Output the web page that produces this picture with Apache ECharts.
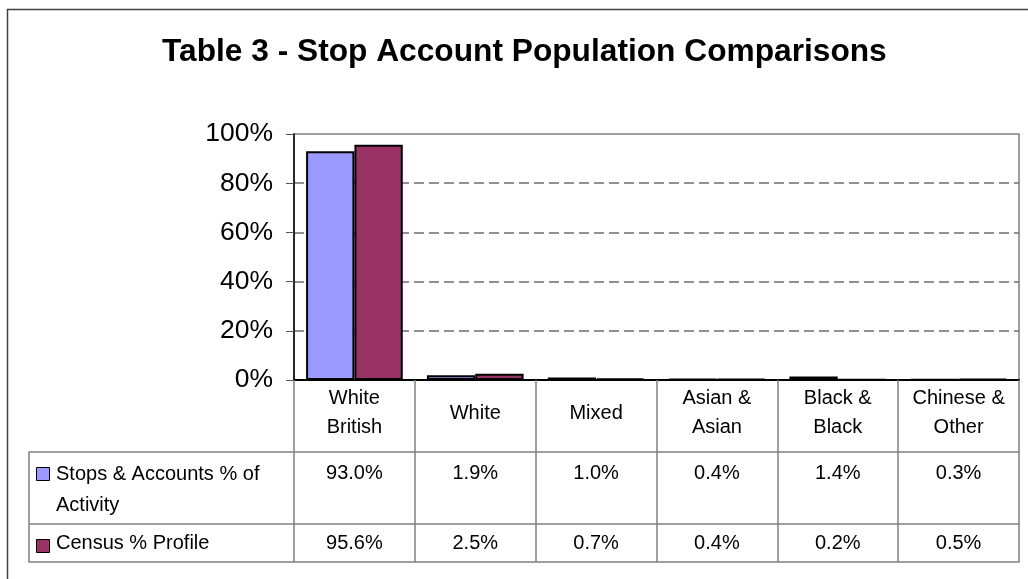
<!DOCTYPE html>
<html>
<head>
<meta charset="utf-8">
<script src="https://cdn.jsdelivr.net/npm/echarts@6/dist/echarts.min.js"></script>
<style>
  html, body { margin: 0; padding: 0; background: #fff; }
  #chart { width: 1028px; height: 579px; }
</style>
</head>
<body>
<div id="chart"></div>
<script>
var categories = ['White\nBritish', 'White', 'Mixed', 'Asian &\nAsian', 'Black &\nBlack', 'Chinese &\nOther'];
var stopsValues = [93.0, 1.9, 1.0, 0.4, 1.4, 0.3];
var censusValues = [95.6, 2.5, 0.7, 0.4, 0.2, 0.5];
var seriesNames = ['Stops & Accounts % of Activity', 'Census % Profile'];
var legendLines = ['Stops & Accounts % of\nActivity', 'Census % Profile'];
var seriesColors = ['#9999FF', '#993366'];

var font = 'Liberation Sans, Arial, sans-serif';
var gridGray = '#808080';

function pct(v) { return v.toFixed(1) + '%'; }

var chart = echarts.init(document.getElementById('chart'));

// table rows under the plot are extra category axes, offset downwards
function tableAxis(offset, tickLen, values, margin) {
  return {
    type: 'category',
    data: categories,
    position: 'bottom',
    offset: offset,
    axisLine: { show: true, lineStyle: { color: gridGray, width: 1.5 } },
    axisTick: { show: tickLen > 0, length: tickLen, interval: 0, lineStyle: { color: gridGray, width: 1.5 } },
    axisLabel: {
      show: !!values,
      interval: 0,
      margin: margin,
      verticalAlign: 'middle',
      fontSize: 20,
      color: '#000',
      fontFamily: font,
      formatter: function (v, i) { return values ? pct(values[i]) : ''; }
    }
  };
}

var options = {
  animation: false,
  backgroundColor: '#fff',
  title: {
    text: 'Table 3 - Stop Account Population Comparisons',
    left: 162,
    top: 36,
    padding: 0,
    textStyle: { fontSize: 31.7, fontWeight: 'bold', fontFamily: font, color: '#000' }
  },
  grid: {
    show: true,
    left: 294,
    right: 9,
    top: 134,
    bottom: 199,
    borderColor: gridGray,
    borderWidth: 1.5
  },
  xAxis: [
    {
      type: 'category',
      data: categories,
      position: 'bottom',
      axisLine: { show: true, lineStyle: { color: '#000', width: 2 } },
      axisTick: { show: true, length: 72, interval: 0, lineStyle: { color: gridGray, width: 1.5 } },
      axisLabel: {
        interval: 0,
        margin: 33,
        verticalAlign: 'middle',
        fontSize: 20,
        lineHeight: 29,
        color: '#000',
        fontFamily: font
      }
    },
    tableAxis(72, 72, stopsValues, 21),
    tableAxis(144, 38, censusValues, 19),
    tableAxis(182, 0, null, 0)
  ],
  yAxis: {
    type: 'value',
    min: 0,
    max: 100,
    interval: 20,
    axisLine: { show: true, lineStyle: { color: '#000', width: 1.5 } },
    axisTick: { show: true, length: 8, lineStyle: { color: '#555', width: 1 } },
    axisLabel: { formatter: '{value}%', fontSize: 26.5, margin: 21, color: '#000', fontFamily: font },
    splitLine: {
      show: true,
      showMinLine: false,
      showMaxLine: false,
      lineStyle: { color: '#6e6e6e', type: [10, 5], width: 1.5 }
    }
  },
  series: [
    {
      name: seriesNames[0],
      type: 'bar',
      data: stopsValues,
      barGap: '0%',
      barCategoryGap: '20%',
      itemStyle: { color: seriesColors[0], borderColor: '#000', borderWidth: 2 }
    },
    {
      name: seriesNames[1],
      type: 'bar',
      data: censusValues,
      itemStyle: { color: seriesColors[1], borderColor: '#000', borderWidth: 2 }
    }
  ],
  graphic: [
    // outer chart frame
    {
      type: 'rect', silent: true, z: -1,
      shape: { x: 7.5, y: 9.5, width: 1100, height: 700 },
      style: { fill: 'none', stroke: '#404040', lineWidth: 1.5 }
    },
    // left column of the data table
    {
      type: 'polyline', silent: true,
      shape: { points: [[294, 452], [29, 452], [29, 562], [294, 562]] },
      style: { fill: 'none', stroke: gridGray, lineWidth: 1.5 }
    },
    {
      type: 'line', silent: true,
      shape: { x1: 29, y1: 524, x2: 294, y2: 524 },
      style: { stroke: gridGray, lineWidth: 1.5 }
    },
    // legend keys
    {
      type: 'rect', silent: true,
      shape: { x: 36.5, y: 467.5, width: 13, height: 13 },
      style: { fill: seriesColors[0], stroke: '#000', lineWidth: 1 }
    },
    {
      type: 'rect', silent: true,
      shape: { x: 36.5, y: 539.5, width: 13, height: 13 },
      style: { fill: seriesColors[1], stroke: '#000', lineWidth: 1 }
    },
    {
      type: 'text', silent: true, x: 56, y: 458.5,
      style: {
        text: legendLines[0], fontSize: 20, lineHeight: 31, fontFamily: font,
        fill: '#000', align: 'left', verticalAlign: 'top'
      }
    },
    {
      type: 'text', silent: true, x: 56, y: 543,
      style: {
        text: legendLines[1], fontSize: 20, fontFamily: font,
        fill: '#000', align: 'left', verticalAlign: 'middle'
      }
    }
  ]
};

chart.setOption(options);
</script>
</body>
</html>
